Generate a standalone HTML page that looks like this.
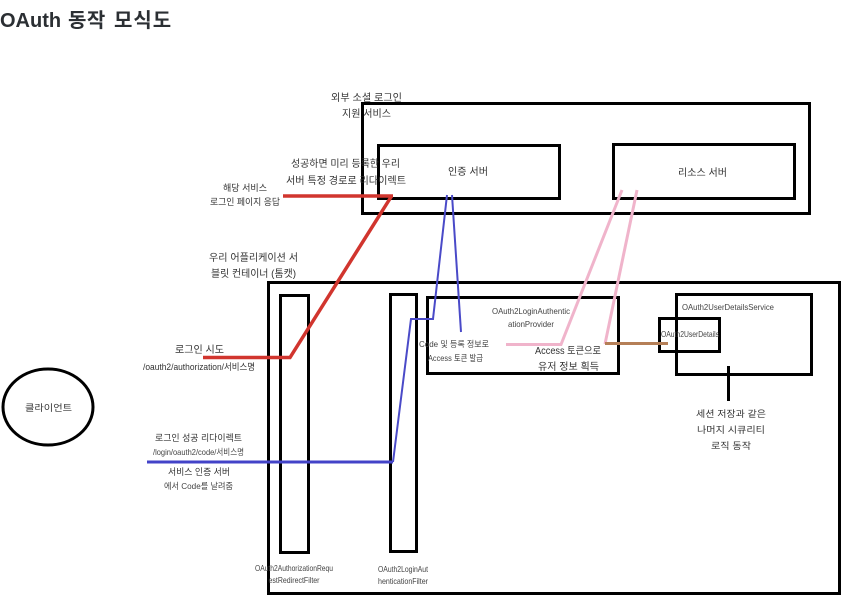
<!DOCTYPE html>
<html lang="ko">
<head>
<meta charset="utf-8">
<style>
html,body{margin:0;padding:0;background:#fff;width:867px;height:613px;overflow:hidden}
svg{display:block;position:absolute;left:0;top:0}
#d{filter:blur(.35px)}
text{font-family:"Liberation Sans","Noto Sans CJK KR",sans-serif;fill:#333;text-anchor:middle}
.s9{font-size:9px}.s10{font-size:10px}
.l{font-size:8.5px;fill:#444}
</style>
</head>
<body>
<svg width="867" height="613" viewBox="0 0 867 613" xmlns="http://www.w3.org/2000/svg">
<g id="d">
<g fill="none" stroke="#000" stroke-width="3">
<rect x="362.500" y="103.500" width="447" height="110"/>
<rect x="378.500" y="145.500" width="181" height="53"/>
<rect x="613.500" y="144.500" width="181" height="54"/>
<rect x="268.500" y="282.500" width="571" height="311"/>
<rect x="280.500" y="295.500" width="28" height="257"/>
<rect x="390.500" y="294.500" width="26" height="257"/>
<rect x="427.500" y="297.500" width="191" height="76"/>
<rect x="676.500" y="294.500" width="135" height="80"/>
<rect x="659.500" y="318.500" width="60" height="33"/>
<path d="M728.500 366V401"/>
<ellipse cx="48" cy="407" rx="45" ry="38"/>
</g>
<g fill="none" stroke-linejoin="miter">
<path d="M203 357.500H290L391 197M283 196H393" stroke="#d1352e" stroke-width="3.5"/>
<path d="M147 462H393" stroke="#4343c8" stroke-width="3"/>
<path d="M393 462L411 319H433L447 195M452 195L461 332" stroke="#4a4ac8" stroke-width="2"/>
<path d="M506 344.500H561L622 190M605 344L637 190" stroke="#f0b4cb" stroke-width="3"/>
<path d="M605 343.500H668" stroke="#b57f57" stroke-width="3"/>
</g>
<text x="366.500" y="101" class="s10" textLength="71" lengthAdjust="spacingAndGlyphs">외부 소셜 로그인</text>
<text x="366.500" y="117" class="s10" textLength="49" lengthAdjust="spacingAndGlyphs">지원 서비스</text>
<text x="345.500" y="167" class="s10" textLength="109" lengthAdjust="spacingAndGlyphs">성공하면 미리 등록한 우리</text>
<text x="346" y="184" class="s10" textLength="120" lengthAdjust="spacingAndGlyphs">서버 특정 경로로 리다이렉트</text>
<text x="245" y="191" class="s9" textLength="44" lengthAdjust="spacingAndGlyphs">해당 서비스</text>
<text x="245" y="205" class="s9" textLength="70" lengthAdjust="spacingAndGlyphs">로그인 페이지 응답</text>
<text x="253.500" y="261" class="s10" textLength="89" lengthAdjust="spacingAndGlyphs">우리 어플리케이션 서</text>
<text x="253.500" y="277" class="s10" textLength="85" lengthAdjust="spacingAndGlyphs">블릿 컨테이너 (톰캣)</text>
<text x="468" y="175" class="s10" textLength="40" lengthAdjust="spacingAndGlyphs">인증 서버</text>
<text x="702.500" y="176" class="s10" textLength="49" lengthAdjust="spacingAndGlyphs">리소스 서버</text>
<text x="199.500" y="353" class="s10" textLength="49" lengthAdjust="spacingAndGlyphs">로그인 시도</text>
<text x="199" y="370" class="s9" textLength="112" lengthAdjust="spacingAndGlyphs">/oauth2/authorization/서비스명</text>
<text x="198.500" y="441" class="s9" textLength="87" lengthAdjust="spacingAndGlyphs">로그인 성공 리다이렉트</text>
<text x="198.500" y="455" class="l" textLength="91" lengthAdjust="spacingAndGlyphs">/login/oauth2/code/서비스명</text>
<text x="199" y="475" class="s9" textLength="62" lengthAdjust="spacingAndGlyphs">서비스 인증 서버</text>
<text x="198.500" y="489" class="l" textLength="69" lengthAdjust="spacingAndGlyphs">에서 Code를 날려줌</text>
<text x="48.500" y="411" class="s9" textLength="47" lengthAdjust="spacingAndGlyphs">클라이언트</text>
<text x="294" y="571" class="l" textLength="78" lengthAdjust="spacingAndGlyphs">OAuth2AuthorizationRequ</text>
<text x="294" y="583" class="l" textLength="51" lengthAdjust="spacingAndGlyphs">estRedirectFilter</text>
<text x="403" y="572" class="l" textLength="50" lengthAdjust="spacingAndGlyphs">OAuth2LoginAut</text>
<text x="403" y="584" class="l" textLength="50" lengthAdjust="spacingAndGlyphs">henticationFilter</text>
<text x="531" y="314" class="l" textLength="78" lengthAdjust="spacingAndGlyphs">OAuth2LoginAuthentic</text>
<text x="531" y="327" class="l" textLength="46" lengthAdjust="spacingAndGlyphs">ationProvider</text>
<text x="454" y="347" class="l" textLength="70" lengthAdjust="spacingAndGlyphs">Code 및 등록 정보로</text>
<text x="455.500" y="361" class="l" textLength="55" lengthAdjust="spacingAndGlyphs">Access 토큰 발급</text>
<text x="568" y="354" class="s10" textLength="66" lengthAdjust="spacingAndGlyphs">Access 토큰으로</text>
<text x="568.500" y="370" class="s10" textLength="61" lengthAdjust="spacingAndGlyphs">유저 정보 획득</text>
<text x="728" y="310" class="l" textLength="92" lengthAdjust="spacingAndGlyphs">OAuth2UserDetailsService</text>
<text x="690" y="337" class="l" textLength="58" lengthAdjust="spacingAndGlyphs">OAuth2UserDetails</text>
<text x="731" y="417" class="s9" textLength="70" lengthAdjust="spacingAndGlyphs">세션 저장과 같은</text>
<text x="731" y="433" class="s9" textLength="68" lengthAdjust="spacingAndGlyphs">나머지 시큐리티</text>
<text x="731" y="449" class="s9" textLength="40" lengthAdjust="spacingAndGlyphs">로직 동작</text>
</g>
<text y="27" style="font-size:20px;font-weight:bold;text-anchor:start;fill:#2b2f33"><tspan x="0">OAuth</tspan> <tspan x="68" letter-spacing="0.500">동작</tspan> <tspan x="114" letter-spacing="1">모식도</tspan></text>
</svg>
</body>
</html>
